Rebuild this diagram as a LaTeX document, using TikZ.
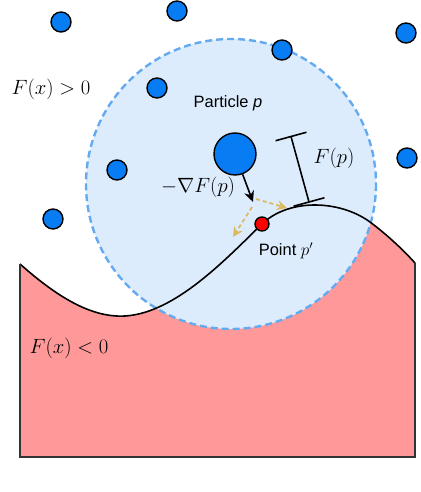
\documentclass[tikz,border=0pt]{standalone}
\usepackage{fontspec}
\setsansfont{Liberation Sans}
\usepackage{xcolor}
\usetikzlibrary{arrows.meta, calc}

\definecolor{dotblue}{RGB}{8,124,242}
\definecolor{haloblue}{RGB}{221,236,252}
\definecolor{haloedge}{RGB}{100,170,240}
\definecolor{regionred}{RGB}{255,153,153}
\definecolor{gradgold}{RGB}{220,185,100}

\begin{document}
\begin{tikzpicture}[
    x=1bp, y=-1bp,
    dot/.style={circle, draw=black, fill=dotblue, line width=1.4pt, minimum size=20bp, inner sep=0pt},
    txt/.style={font=\sffamily\fontsize{16.5}{19}\selectfont},
    mathlbl/.style={font=\fontsize{20}{23}\selectfont},
    arr/.style={-{Stealth[length=11pt, width=10pt]}, line width=1.6pt},
    probe/.style={-{Stealth[length=10pt, width=10pt]}, gradgold, line width=1.8pt, dash pattern=on 4pt off 3pt},
]
\useasboundingbox (0,0) rectangle (420,492);

% region F(x) < 0
\fill[regionred] (20,264) .. controls (55,295) and (90,318) .. (125,316)
    .. controls (175,313) and (225,260) .. (262,224)
    .. controls (289,198) and (340,200) .. (370,222)
    .. controls (390,237) and (405,252) .. (415,263)
    -- (415,457) -- (20,457) -- cycle;

% neighbourhood of the particle
\draw[haloedge, fill=haloblue, line width=2.4pt, dash pattern=on 7pt off 4pt] (231,184) circle (145);

% boundary F(x) = 0
\draw[line width=1.6pt] (20,264) .. controls (55,295) and (90,318) .. (125,316)
    .. controls (175,313) and (225,260) .. (262,224)
    .. controls (289,198) and (340,200) .. (370,222)
    .. controls (390,237) and (405,252) .. (415,263);
\draw[line width=1.6pt, black!80] (20,264) -- (20,457) -- (415,457) -- (415,263);

% other particles
\foreach \px/\py [count=\i] in {61/22, 177/11, 282/50, 406/33, 157/88, 117/170, 53/219, 407/158}
    \node[dot] (d\i) at (\px,\py) {};

\node[dot, minimum size=42bp] (particle) at (235,154) {};
\node[circle, draw=black, fill=red, line width=1.4pt, minimum size=14bp, inner sep=0pt] (target) at (262,224) {};

% gradient step
\coordinate (gradtip) at (253,202);
\coordinate (probeA) at (233,237);
\coordinate (probeB) at (287,208);
\draw[arr] (particle) -- (gradtip);
\draw[probe] ($(gradtip)+(3,-3)$) -- (probeB);
\draw[probe] ($(gradtip)+(-1,5)$) -- (probeA);

% distance F(p)
\coordinate (fptop) at (291,136.5);
\coordinate (fpbot) at (309,202);
\draw[line width=1.6pt] (fptop) -- (fpbot);
\draw[line width=1.6pt] ($(fptop)!16bp!90:(fpbot)$) -- ($(fptop)!16bp!-90:(fpbot)$);
\draw[line width=1.6pt] ($(fpbot)!16bp!90:(fptop)$) -- ($(fpbot)!16bp!-90:(fptop)$);

% labels
\node[mathlbl] (fplabel) at (334,158) {$F(p)$};
\node[mathlbl] (gradlabel) at (198,187) {$-\nabla F(p)$};
\node[txt] (partlabel) at (228,103) {Particle \textit{p}};
\node[txt] (pointlabel) at (286,251) {Point $p'$};
\node[mathlbl] (poslabel) at (51,89) {$F(x) > 0$};
\node[mathlbl] (neglabel) at (69,348) {$F(x) < 0$};
\end{tikzpicture}
\end{document}
